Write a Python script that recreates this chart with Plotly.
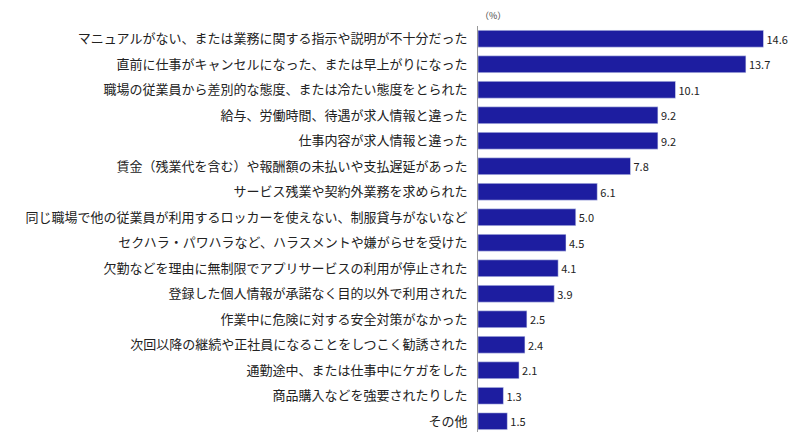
import plotly.graph_objects as go

categories = [
    "マニュアルがない、または業務に関する指示や説明が不十分だった",
    "直前に仕事がキャンセルになった、または早上がりになった",
    "職場の従業員から差別的な態度、または冷たい態度をとられた",
    "給与、労働時間、待遇が求人情報と違った",
    "仕事内容が求人情報と違った",
    "賃金（残業代を含む）や報酬額の未払いや支払遅延があった",
    "サービス残業や契約外業務を求められた",
    "同じ職場で他の従業員が利用するロッカーを使えない、制服貸与がないなど",
    "セクハラ・パワハラなど、ハラスメントや嫌がらせを受けた",
    "欠勤などを理由に無制限でアプリサービスの利用が停止された",
    "登録した個人情報が承諾なく目的以外で利用された",
    "作業中に危険に対する安全対策がなかった",
    "次回以降の継続や正社員になることをしつこく勧誘された",
    "通勤途中、または仕事中にケガをした",
    "商品購入などを強要されたりした",
    "その他",
]
values = [14.6, 13.7, 10.1, 9.2, 9.2, 7.8, 6.1, 5.0, 4.5, 4.1, 3.9, 2.5, 2.4, 2.1, 1.3, 1.5]

fig = go.Figure(go.Bar(
    x=values, y=categories, orientation="h",
    marker=dict(color="#1d1da0"), width=0.66,
    text=[f"{v:.1f}" for v in values], textposition="outside",
    textfont=dict(size=11, color="#222"), cliponaxis=False,
))
fig.update_layout(
    width=800, height=432, margin=dict(l=470, r=23, t=18, b=6),
    plot_bgcolor="white", paper_bgcolor="white",
    font=dict(family="Noto Sans CJK JP", size=13, color="#222"),
    showlegend=False,
    xaxis=dict(range=[0, 15.7], visible=False),
    yaxis=dict(autorange="reversed", showline=True, linecolor="#999", linewidth=1,
               ticks="", ticklabelstandoff=7, showgrid=False, automargin=False),
    annotations=[dict(text="（%）", x=0, y=1, xref="x", yref="paper", xanchor="left",
                      yanchor="bottom", yshift=2, showarrow=False, font=dict(size=9, color="#444"))],
)
fig.write_html("out.html")
